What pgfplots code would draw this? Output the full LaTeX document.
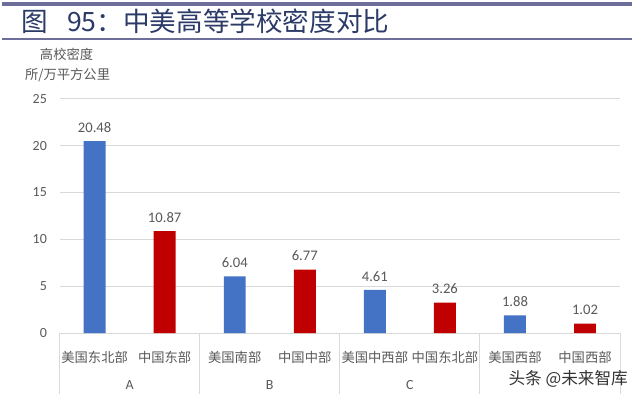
\documentclass[border=0pt]{standalone}
\usepackage{fontspec}
\setmainfont{Carlito}
\newfontfamily\cjk{Noto Sans CJK SC}
\usepackage{pgfplots}
\pgfplotsset{compat=1.18}
\definecolor{barblue}{HTML}{4472C4}
\definecolor{barred}{HTML}{C00000}
\definecolor{gridc}{HTML}{D9D9D9}
\definecolor{txt}{HTML}{595959}
\definecolor{titleblue}{HTML}{2B3A67}
\definecolor{rulec}{HTML}{6E6E9A}
\begin{document}
\begin{tikzpicture}
\fill[white] (0,0) rectangle (480pt,299.25pt);
\draw[rulec, line width=2.6pt] (0,296.25pt) -- (474pt,296.25pt);
\draw[rulec, line width=1.1pt] (0,270pt) -- (474pt,270pt);
\node[anchor=west, text=titleblue, inner sep=0pt] at (15pt,283.5pt) {\fontsize{20}{24}\selectfont\cjk 图\hspace{0.7em}95：中美高等学校密度对比};
\node[text=txt, inner sep=0pt] at (48.75pt,258pt) {\fontsize{10}{12}\selectfont\cjk 高校密度};
\node[text=txt, inner sep=0pt] at (49.5pt,243pt) {\fontsize{10}{12}\selectfont\cjk 所/万平方公里};
\begin{axis}[
  at={(43.5pt,48.75pt)}, anchor=south west,
  scale only axis, width=421.5pt, height=176.25pt,
  xmin=-0.5, xmax=7.5, ymin=0, ymax=25,
  ytick={0,5,10,15,20,25},
  xtick={0,1,2,3,4,5,6,7},
  xticklabels={美国东北部,中国东部,美国南部,中国中部,美国中西部,中国东北部,美国西部,中国西部},
  xticklabel style={font=\fontsize{10}{12}\selectfont\cjk, text=txt, yshift=-6pt},
  yticklabel style={font=\fontsize{10.5}{12}\selectfont, text=txt, xshift=-6pt},
  /pgf/number format/assume math mode=true,
  ymajorgrids, grid style={gridc, line width=0.75pt},
  axis line style={draw=none}, tick style={draw=none},
  clip=false,
  ybar, bar width=16.5pt,
  nodes near coords={\pgfmathprintnumber[fixed,precision=2,fixed zerofill,assume math mode=true]{\pgfplotspointmeta}},
  nodes near coords style={font=\fontsize{11}{13}\selectfont, text=txt, anchor=south, yshift=3pt},
]
\addplot[fill=barblue, draw=none, bar shift=0pt] coordinates {(0,20.48) (2,6.04) (4,4.61) (6,1.88)};
\addplot[fill=barred, draw=none, bar shift=0pt] coordinates {(1,10.87) (3,6.77) (5,3.26) (7,1.02)};
\pgfplotsinvokeforeach{-0.5,1.5,3.5,5.5,7.5}{
  \draw[gridc, line width=0.75pt] (axis cs:#1,0) -- ([yshift=-46pt]axis cs:#1,0);
}
\node[text=txt, font=\fontsize{10.5}{12}\selectfont] at ([yshift=-39pt]axis cs:0.5,0) {A};
\node[text=txt, font=\fontsize{10.5}{12}\selectfont] at ([yshift=-39pt]axis cs:2.5,0) {B};
\node[text=txt, font=\fontsize{10.5}{12}\selectfont] at ([yshift=-39pt]axis cs:4.5,0) {C};
\end{axis}
\node[text=black!80, inner sep=1pt] at (426pt,14.25pt) {\fontsize{12.5}{14}\selectfont\cjk 头条 @未来智库};
\end{tikzpicture}
\end{document}
